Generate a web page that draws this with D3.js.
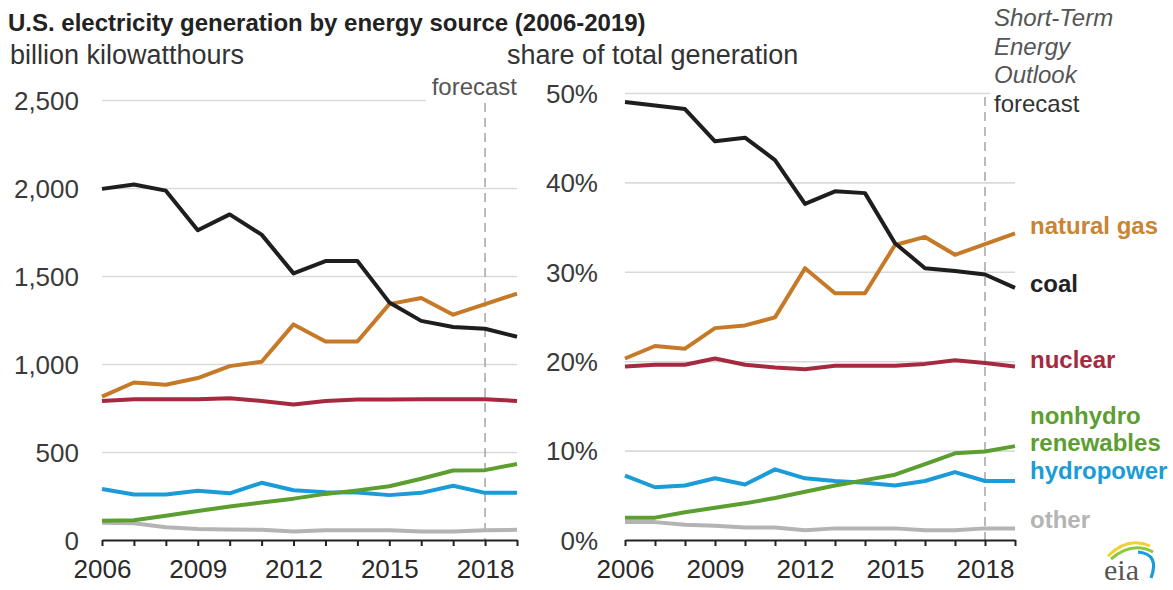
<!DOCTYPE html>
<html>
<head>
<meta charset="utf-8">
<script src="https://cdn.jsdelivr.net/npm/d3@7"></script>
<style>
  html, body { margin: 0; padding: 0; background: #fff; }
  svg { display: block; font-family: "Liberation Sans", Arial, sans-serif; }
</style>
</head>
<body>
<svg id="chart" width="1173" height="590"></svg>
<script>
// Years and tick sets
const years = [2006, 2007, 2008, 2009, 2010, 2011, 2012, 2013, 2014, 2015, 2016, 2017, 2018, 2019];
const yearTicks = [2006, 2009, 2012, 2015, 2018];
const genTicks = [0, 500, 1000, 1500, 2000, 2500];
const shareTicks = [0, 10, 20, 30, 40, 50];
const forecastYear = 2018;

// Generation, billion kilowatthours
const coalGen = [1995, 2020, 1985, 1760, 1850, 1735, 1515, 1585, 1585, 1350, 1245, 1210, 1200, 1155];
const gasGen = [815, 895, 882, 920, 988, 1013, 1225, 1128, 1128, 1340, 1375, 1280, 1340, 1400];
const nuclearGen = [790, 800, 800, 800, 805, 790, 770, 790, 798, 798, 800, 800, 800, 790];
const hydroGen = [290, 258, 258, 280, 265, 325, 283, 272, 270, 255, 268, 308, 268, 268];
const renewGen = [110, 112, 138, 165, 190, 213, 235, 262, 282, 305, 348, 395, 397, 432];
const otherGen = [98, 95, 72, 62, 60, 58, 48, 55, 55, 55, 48, 48, 55, 58];

// Share of total generation, percent
const coalShare = [49.0, 48.6, 48.2, 44.6, 45.0, 42.5, 37.6, 39.0, 38.8, 33.2, 30.4, 30.1, 29.7, 28.2];
const gasShare = [20.3, 21.7, 21.4, 23.7, 24.0, 24.9, 30.4, 27.6, 27.6, 33.0, 33.9, 31.9, 33.1, 34.3];
const nuclearShare = [19.4, 19.6, 19.6, 20.3, 19.6, 19.3, 19.1, 19.5, 19.5, 19.5, 19.7, 20.1, 19.8, 19.4];
const hydroShare = [7.2, 5.9, 6.1, 6.9, 6.2, 7.9, 6.9, 6.6, 6.4, 6.1, 6.6, 7.6, 6.6, 6.6];
const renewShare = [2.5, 2.5, 3.1, 3.6, 4.1, 4.7, 5.4, 6.1, 6.7, 7.3, 8.5, 9.7, 9.9, 10.5];
const otherShare = [2.0, 2.0, 1.7, 1.6, 1.4, 1.4, 1.1, 1.3, 1.3, 1.3, 1.1, 1.1, 1.3, 1.3];

const sourceNames = ["other", "hydropower", "nonhydro renewables", "nuclear", "natural gas", "coal"];
const sourceColors = ["#b4b4b4", "#1b9bd7", "#5c9e30", "#a52a40", "#c67a28", "#1e1e1e"];
const genSeries = [otherGen, hydroGen, renewGen, nuclearGen, gasGen, coalGen];
const shareSeries = [otherShare, hydroShare, renewShare, nuclearShare, gasShare, coalShare];

const svg = d3.select("#chart");
const textDark = "#333";

// Title and panel subtitles
svg.append("text").attr("x", 8).attr("y", 31)
  .attr("font-size", 24).attr("font-weight", "bold").attr("fill", "#222")
  .text("U.S. electricity generation by energy source (2006-2019)");
svg.append("text").attr("x", 10).attr("y", 64)
  .attr("font-size", 27).attr("fill", textDark).text("billion kilowatthours");
svg.append("text").attr("x", 507).attr("y", 64)
  .attr("font-size", 27).attr("fill", textDark).text("share of total generation");

function panel(opts) {
  const { x, y, ticks, fmt, series, labelPad, yTop } = opts;
  const g = svg.append("g");
  const [x0, x1] = x.range();

  // Horizontal gridlines with value labels
  const yAxis = d3.axisLeft(y).tickValues(ticks).tickFormat(fmt)
    .tickSize(-(x1 - x0)).tickPadding(labelPad);
  const ya = g.append("g").attr("transform", `translate(${x0},0)`).call(yAxis);
  ya.select(".domain").remove();
  ya.selectAll(".tick line").attr("stroke", "#d9d9d9").attr("stroke-width", 1.6)
    .filter(d => d === 0).remove();
  ya.selectAll(".tick text").attr("font-size", 26).attr("fill", "#3a3a3a")
    .attr("font-family", "Liberation Sans, Arial, sans-serif").attr("dy", "0.36em");

  // Forecast divider
  g.append("line")
    .attr("x1", x(forecastYear)).attr("x2", x(forecastYear))
    .attr("y1", yTop).attr("y2", y(0))
    .attr("stroke", "#aaa").attr("stroke-width", 1.6).attr("stroke-dasharray", "9,6");

  // Series lines
  const line = d3.line().x((d, i) => x(years[i])).y(d => y(d));
  g.selectAll("path.series").data(series).join("path")
    .attr("class", "series")
    .attr("d", d => line(d))
    .attr("fill", "none")
    .attr("stroke", (d, i) => sourceColors[i])
    .attr("stroke-width", 4)
    .attr("stroke-linejoin", "round");

  // Year axis
  const xAxis = d3.axisBottom(x).tickValues(years)
    .tickFormat(d => yearTicks.includes(d) ? String(d) : "")
    .tickSize(6).tickSizeOuter(0).tickPadding(0);
  const xa = g.append("g").attr("transform", `translate(0,${y(0)})`).call(xAxis);
  xa.select(".domain").attr("stroke", "#222").attr("stroke-width", 2.2);
  xa.selectAll(".tick line").attr("stroke", "#222").attr("stroke-width", 2);
  xa.selectAll(".tick text").attr("font-size", 26).attr("fill", "#2a2a2a")
    .attr("font-family", "Liberation Sans, Arial, sans-serif")
    .attr("y", 38).attr("dy", 0);
  return g;
}

const xL = d3.scaleLinear().domain([2006, 2019]).range([102, 517]);
const yL = d3.scaleLinear().domain([0, 2500]).range([540, 100]);
const xR = d3.scaleLinear().domain([2006, 2019]).range([625, 1015]);
const yR = d3.scaleLinear().domain([0, 50]).range([540, 93]);

panel({ x: xL, y: yL, ticks: genTicks, fmt: d3.format(","), series: genSeries, labelPad: 23, yTop: 103 });
panel({ x: xR, y: yR, ticks: shareTicks, fmt: d => d + "%", series: shareSeries, labelPad: 27, yTop: 97 });

// Forecast label on the left panel
const fL = svg.append("g");
fL.append("rect").attr("x", 426).attr("y", 74).attr("width", 95).attr("height", 28).attr("fill", "#fff");
fL.append("text").attr("x", 517).attr("y", 95).attr("text-anchor", "end")
  .attr("font-size", 24).attr("fill", "#555").text("forecast");

// Outlook note on the right panel
const note = svg.append("g");
note.append("rect").attr("x", 990).attr("y", 80).attr("width", 120).attr("height", 30).attr("fill", "#fff");
const noteLines = ["Short-Term", "Energy", "Outlook"];
note.selectAll("text.it").data(noteLines).join("text")
  .attr("class", "it")
  .attr("x", 994).attr("y", (d, i) => 26 + i * 28.7)
  .attr("font-size", 24).attr("font-style", "italic").attr("fill", "#555")
  .text(d => d);
note.append("text").attr("x", 994).attr("y", 112)
  .attr("font-size", 24).attr("fill", textDark).text("forecast");

// Source labels at the end of the share lines
const labelRows = [
  { text: "natural gas", color: "#c98434", y: 234 },
  { text: "coal", color: "#222", y: 292 },
  { text: "nuclear", color: "#a52a40", y: 368 },
  { text: "nonhydro", color: "#5c9e30", y: 424 },
  { text: "renewables", color: "#5c9e30", y: 451 },
  { text: "hydropower", color: "#1b9bd7", y: 479 },
  { text: "other", color: "#b4b4b4", y: 528 }
];
svg.append("g").selectAll("text").data(labelRows).join("text")
  .attr("x", 1030).attr("y", d => d.y)
  .attr("font-size", 24).attr("font-weight", "bold").attr("fill", d => d.color)
  .text(d => d.text);

// eia logo
const logo = svg.append("g");
logo.append("path").attr("d", "M1108,556 Q1128,536 1150,546")
  .attr("fill", "none").attr("stroke", "#f2d12e").attr("stroke-width", 3);
logo.append("path").attr("d", "M1111,559 Q1132,541 1153,552")
  .attr("fill", "none").attr("stroke", "#8dc63f").attr("stroke-width", 3);
logo.append("path").attr("d", "M1138,552 Q1160,554 1151,578")
  .attr("fill", "none").attr("stroke", "#1b9bd7").attr("stroke-width", 3.2);
logo.append("text").attr("x", 1104).attr("y", 580)
  .attr("font-size", 30).attr("font-family", "Liberation Serif, serif").attr("fill", "#555")
  .text("eia");
</script>
</body>
</html>
